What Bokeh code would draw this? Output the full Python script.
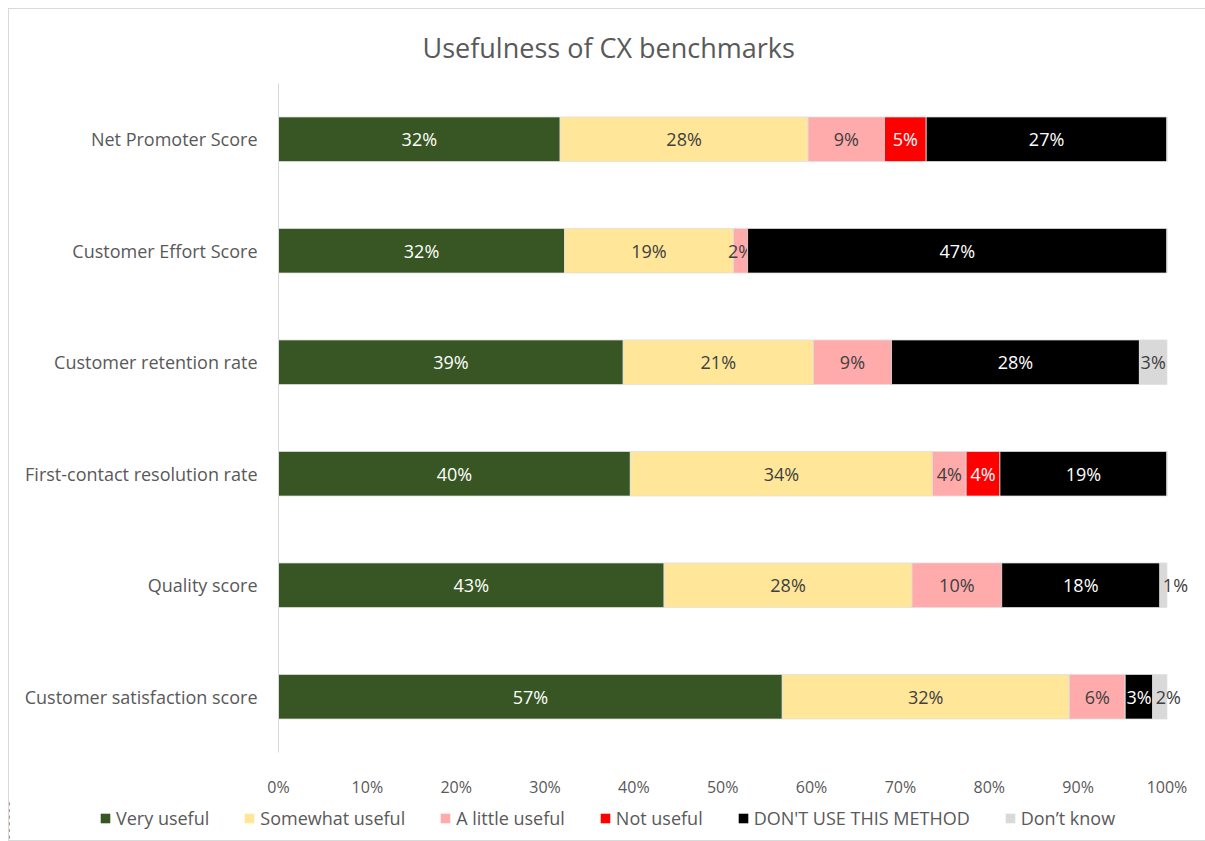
from bokeh.plotting import figure
from bokeh.layouts import column
from bokeh.models import ColumnDataSource, Range1d, FixedTicker, Legend, LegendItem
from bokeh.core.properties import value
from bokeh.embed import file_html
from bokeh.resources import INLINE

categories = ["Net Promoter Score", "Customer Effort Score", "Customer retention rate",
              "First-contact resolution rate", "Quality score", "Customer satisfaction score"]
series_names = ["Very useful", "Somewhat useful", "A little useful", "Not useful",
                "DON'T USE THIS METHOD", "Don\u2019t know"]
very_useful = [31.7, 32.2, 38.8, 39.6, 43.4, 56.7]
somewhat_useful = [27.9, 19.0, 21.4, 34.0, 27.9, 32.3]
a_little_useful = [8.6, 1.6, 8.8, 3.8, 10.1, 6.3]
not_useful = [4.7, 0.0, 0.0, 3.8, 0.0, 0.0]
dont_use = [27.1, 47.2, 27.9, 18.8, 17.8, 3.1]
dont_know = [0.0, 0.0, 3.1, 0.0, 0.8, 1.6]
x_ticks = [0, 10, 20, 30, 40, 50, 60, 70, 80, 90, 100]
x_tick_labels = ["0%", "10%", "20%", "30%", "40%", "50%", "60%", "70%", "80%", "90%", "100%"]

series_values = [very_useful, somewhat_useful, a_little_useful, not_useful, dont_use, dont_know]
colors = ["#375623", "#FFE699", "#FFABAB", "#FF0000", "#000000", "#D9D9D9"]
label_colors = ["#FFFFFF", "#404040", "#404040", "#FFFFFF", "#FFFFFF", "#404040"]

FONT = "Open Sans"

p = figure(width=1196, height=791, output_backend="svg", toolbar_location=None,
           x_range=Range1d(0, 104), y_range=list(reversed(categories)),
           min_border_left=269, min_border_right=3, min_border_top=74, min_border_bottom=48)
p.frame_align = False
p.outline_line_color = None
p.xgrid.grid_line_color = None
p.ygrid.grid_line_color = None

p.title.text = "Usefulness of CX benchmarks"
p.title.text_font = FONT
p.title.text_font_size = "27px"
p.title.text_font_style = "normal"
p.title.text_color = "#595959"
p.title.text_line_height = 0.6
p.title.align = "left"
p.title.offset = 144
p.title.standoff = 35

p.xaxis.ticker = FixedTicker(ticks=x_ticks)
p.xaxis.major_label_overrides = {t: l for t, l in zip(x_ticks, x_tick_labels)}
p.xaxis.axis_line_color = None
p.xaxis.major_tick_line_color = None
p.xaxis.minor_tick_line_color = None
p.xaxis.major_label_text_font = FONT
p.xaxis.major_label_text_font_size = "16px"
p.xaxis.major_label_text_color = "#595959"
p.xaxis.major_label_standoff = 17

p.yaxis.axis_line_color = "#d9d9d9"
p.yaxis.major_tick_line_color = None
p.yaxis.minor_tick_line_color = None
p.yaxis.major_label_text_font = FONT
p.yaxis.major_label_text_font_size = "18px"
p.yaxis.major_label_text_color = "#595959"
p.yaxis.major_label_standoff = 15

# legend strip: same series and data, drawn outside its visible x range so only the legend shows
leg = figure(width=1196, height=40, output_backend="svg", toolbar_location=None,
             x_range=Range1d(200, 300), y_range=list(reversed(categories)),
             x_axis_type=None, y_axis_type=None, min_border=0)
leg.frame_align = False
leg.outline_line_color = None
leg.xgrid.grid_line_color = None
leg.ygrid.grid_line_color = None

items = []
cum = [0.0] * len(categories)
for name, vals, col, lcol in zip(series_names, series_values, colors, label_colors):
    left = list(cum)
    right = [c + v for c, v in zip(cum, vals)]
    cum = right
    src = ColumnDataSource(dict(y=categories, left=left, right=right))
    p.hbar(y="y", left="left", right="right", height=0.4, source=src,
           fill_color=col, line_color="#e0e0e0", line_width=0.8)
    lr = leg.hbar(y="y", left="left", right="right", height=0.4, source=src,
                  fill_color=col, line_color=None)
    items.append(LegendItem(label=name, renderers=[lr]))
    lx, ly, lt, la, lc, lo = [], [], [], [], [], []
    is_last = name == series_names[-1]
    for c, l, rr, v in zip(categories, left, right, vals):
        if v <= 0:
            continue
        lt.append(f"{round(v)}%")
        ly.append(c)
        if is_last and v < 2:
            lx.append(l)
            la.append("left")
            lc.append("#404040")
            lo.append(3)
        else:
            lx.append((l + rr) / 2)
            la.append("center")
            lc.append(lcol)
            lo.append(0)
    tsrc = ColumnDataSource(dict(x=lx, y=ly, t=lt, a=la, c=lc, o=lo))
    p.text(x="x", y="y", text="t", source=tsrc, text_align="a", text_baseline="middle",
           x_offset="o", text_font=value(FONT), text_font_size="18px", text_color="c")

legend = Legend(items=items, orientation="horizontal", location=(90, 10),
                glyph_width=12, glyph_height=12, label_standoff=5, spacing=34,
                label_text_font=FONT, label_text_font_size="18px", label_text_color="#595959",
                label_height=20, padding=0, margin=0, border_line_color=None,
                background_fill_alpha=0)
leg.add_layout(legend, "center")

layout = column(p, leg, spacing=0,
                styles={"border": "1px solid #d9d9d9", "margin-left": "8px", "margin-top": "8px"})

open("out.html", "w").write(file_html(layout, INLINE))
